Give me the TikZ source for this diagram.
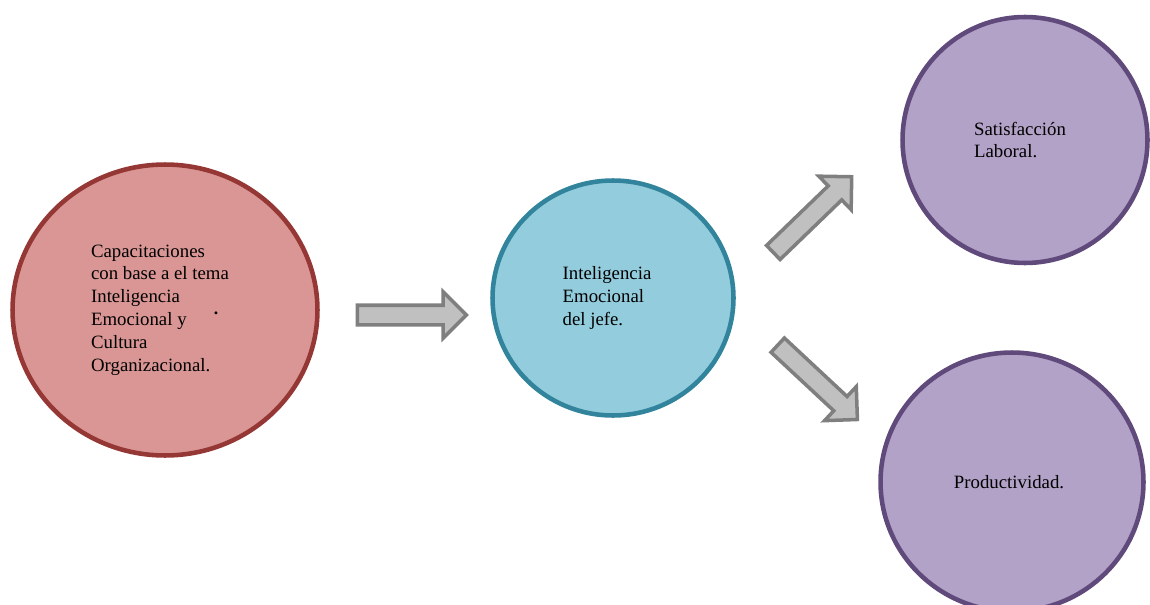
\documentclass[tikz,border=0pt]{standalone}
\usepackage{fontspec}
\setmainfont{Liberation Serif}
\usetikzlibrary{shapes.geometric}
\usetikzlibrary{shapes.arrows}
\definecolor{rojofondo}{HTML}{D99694}
\definecolor{rojoborde}{HTML}{953735}
\definecolor{azulfondo}{HTML}{93CDDD}
\definecolor{azulborde}{HTML}{31849B}
\definecolor{moradofondo}{HTML}{B3A2C7}
\definecolor{moradoborde}{HTML}{604A7B}
\definecolor{grisfondo}{HTML}{C0C0C0}
\definecolor{grisborde}{HTML}{7F7F7F}
\tikzstyle{every node}=[font=\fontsize{10.7}{13}\selectfont, text=black]

\begin{document}
\begin{tikzpicture}[x=0.02cm, y=-0.02cm,
    tema/.style={%
        ellipse, line width=2.6pt, inner sep=0pt},
    capacitacion/.style={%
        tema, draw=rojoborde, fill=rojofondo,
        minimum width=6.1cm, minimum height=5.82cm},
    jefe/.style={%
        tema, draw=azulborde, fill=azulfondo,
        minimum width=4.82cm, minimum height=4.7cm},
    resultado/.style={%
        tema, draw=moradoborde, fill=moradofondo},
    texto/.style={%
        align=left, inner sep=0pt},
    flecha/.style={%
        single arrow, draw=grisborde, fill=grisfondo,
        line width=2pt, inner sep=0.16cm,
        single arrow head extend=0.27cm,
        minimum height=2.18cm},
]
    \useasboundingbox (0,0) rectangle (1150,605);
    \clip (0,0) rectangle (1150,605);

    % Capacitaciones
    \node[capacitacion] (capacitacion) at (165,310) {};
    \node[texto] (txtCapacitacion) at ([xshift=-0.1cm]capacitacion)
        {Capacitaciones\\con base a el tema\\Inteligencia\\Emocional y\\Cultura\\Organizacional.};
    \node[inner sep=0pt, font=\bfseries] (punto) at (216,313) {.};

    % Inteligencia emocional del jefe
    \node[jefe] (jefe) at (613,298) {};
    \node[texto] (txtJefe) at ([xshift=-0.12cm]jefe) {Inteligencia\\Emocional\\del jefe.};

    % Resultados
    \node[resultado, minimum width=4.9cm, minimum height=4.92cm] (satisfaccion) at (1025,140) {};
    \node[texto] (txtSatisfaccion) at ([xshift=-0.1cm]satisfaccion) {Satisfacción\\Laboral.};
    \node[resultado, minimum width=5.26cm, minimum height=5.18cm] (productividad) at (1012,482) {};
    \node[texto] (txtProductividad) at ([xshift=-0.06cm]productividad) {Productividad.};

    % Flechas
    \node[flecha] (flechaA) at (407,315) {};
    \node[flecha, rotate=44] (flechaB) at (809,218) {};
    \node[flecha, rotate=-43] (flechaC) at (814,379) {};
\end{tikzpicture}
\end{document}
